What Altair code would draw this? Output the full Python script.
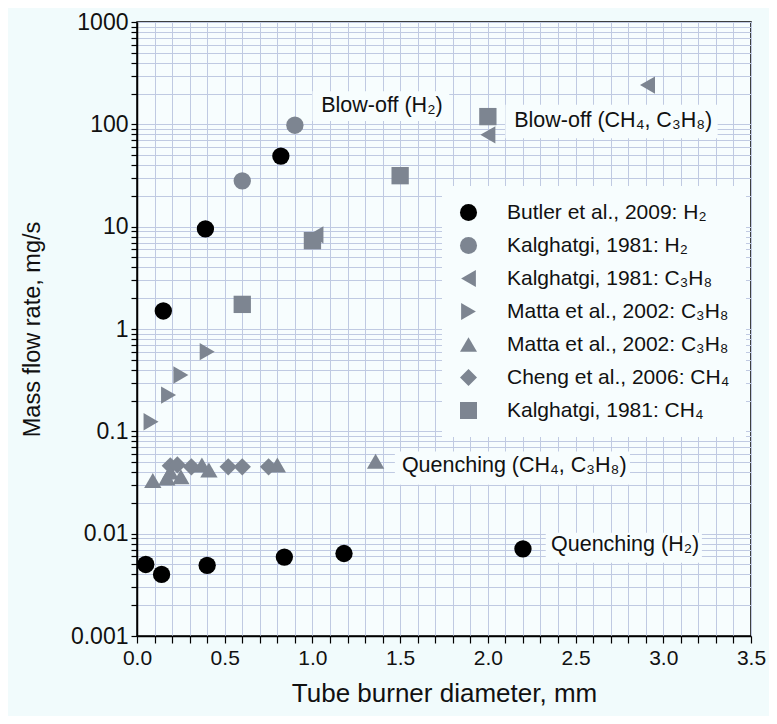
import altair as alt
import pandas as pd

# ---- data ----
series_names = [
    "Butler et al., 2009: H₂",
    "Kalghatgi, 1981: H₂",
    "Kalghatgi, 1981: C₃H₈",
    "Matta et al., 2002: C₃H₈ ",
    "Matta et al., 2002: C₃H₈",
    "Cheng et al., 2006: CH₄",
    "Kalghatgi, 1981: CH₄",
]
series_shapes = ["circle", "circle", "triangle-left", "triangle-right",
                 "triangle-up", "diamond", "square"]
series_colors = ["#000000", "#7d8591", "#7d8591", "#7d8591",
                 "#7d8591", "#7d8591", "#7d8591"]

butler_x = [0.05, 0.14, 0.40, 0.84, 1.18, 2.20, 0.15, 0.39, 0.82]
butler_y = [0.0050, 0.0040, 0.0049, 0.0059, 0.0064, 0.0071, 1.5, 9.5, 49]

kal_h2_x = [0.60, 0.90]
kal_h2_y = [28, 98]

kal_c3_x = [1.02, 2.00, 2.91]
kal_c3_y = [8.3, 79, 242]

matta_blow_x = [0.08, 0.18, 0.25, 0.40]
matta_blow_y = [0.124, 0.226, 0.355, 0.60]

matta_q_x = [0.09, 0.17, 0.19, 0.25, 0.37, 0.41, 0.80, 1.36]
matta_q_y = [0.033, 0.035, 0.040, 0.036, 0.047, 0.042, 0.047, 0.051]

cheng_x = [0.19, 0.23, 0.31, 0.52, 0.60, 0.75]
cheng_y = [0.046, 0.047, 0.045, 0.045, 0.045, 0.045]

kal_ch4_x = [0.60, 1.00, 1.50, 2.00]
kal_ch4_y = [1.74, 7.3, 31.5, 119]

# annotations: text, x, y, box x0, x1, y0, y1 (data units)
ann_text = ["Blow-off (H₂)", "Blow-off (CH₄, C₃H₈)",
            "Quenching (CH₄, C₃H₈)", "Quenching (H₂)"]
ann_x = [1.05, 2.15, 1.51, 2.36]
ann_y = [150, 108, 0.0455, 0.0077]
box_x0 = [1.00, 2.10, 1.47, 2.33]
box_x1 = [1.78, 3.31, 2.81, 3.22]
box_y0 = [108, 73, 0.030, 0.0052]
box_y1 = [210, 155, 0.0635, 0.0102]

xs_all = [butler_x, kal_h2_x, kal_c3_x, matta_blow_x, matta_q_x, cheng_x, kal_ch4_x]
ys_all = [butler_y, kal_h2_y, kal_c3_y, matta_blow_y, matta_q_y, cheng_y, kal_ch4_y]

rows = []
for name, xs, ys in zip(series_names, xs_all, ys_all):
    for xv, yv in zip(xs, ys):
        rows.append({"series": name, "d": xv, "m": yv})
df = pd.DataFrame(rows)

ann_df = pd.DataFrame({"t": ann_text, "x": ann_x, "y": ann_y,
                       "x0": box_x0, "x1": box_x1, "y0": box_y0, "y1": box_y1})

x_ticks = [round(i * 0.1, 1) for i in range(0, 36)]
y_ticks = []
for e in range(-3, 3):
    for k in range(1, 10):
        y_ticks.append(round(k * 10 ** e, 6))
y_ticks.append(1000)

FONT = "Liberation Sans"

x_scale = alt.Scale(domain=[0, 3.5], nice=False, zero=False)
y_scale = alt.Scale(type="log", domain=[0.001, 1000], nice=False)

x_axis = alt.Axis(values=x_ticks, title="Tube burner diameter, mm",
                  labelExpr="abs(datum.value*2 - round(datum.value*2)) < 0.001 ? format(datum.value, '.1f') : ''",
                  grid=True, tickSize=7, labelPadding=4, titlePadding=12,
                  labelFontSize=21, titleFontSize=26,
                  labelFlush=False, labelOverlap=False, labelBound=False)
y_axis = alt.Axis(values=y_ticks, title="Mass flow rate, mg/s",
                  labelExpr="abs(log(datum.value)/log(10) - round(log(datum.value)/log(10))) < 0.001 ? format(datum.value, '~g') : ''",
                  grid=True, tickSize=6, labelPadding=3, titlePadding=26,
                  labelFontSize=23, titleFontSize=23.5,
                  labelFlush=False, labelOverlap=False, labelBound=False)

boxes = alt.Chart(ann_df).mark_rect(color="#f7fdfe", opacity=1).encode(
    x=alt.X("x0:Q", scale=x_scale, axis=x_axis),
    x2="x1:Q",
    y=alt.Y("y0:Q", scale=y_scale, axis=y_axis),
    y2="y1:Q",
)

points = alt.Chart(df).mark_point(filled=True, opacity=1, size=300, strokeWidth=0).encode(
    x=alt.X("d:Q", scale=x_scale, axis=x_axis),
    y=alt.Y("m:Q", scale=y_scale, axis=y_axis),
    color=alt.Color("series:N", scale=alt.Scale(domain=series_names, range=series_colors),
                    legend=alt.Legend(title=None, orient="none", legendX=305, legendY=164,
                                      fillColor="#f7fdfe", padding=16,
                                      labelFontSize=21, labelFont=FONT, labelColor="#111111",
                                      symbolSize=290, symbolStrokeWidth=0,
                                      rowPadding=11, labelOffset=28, labelLimit=400)),
    shape=alt.Shape("series:N", scale=alt.Scale(domain=series_names, range=series_shapes)),
)

labels = alt.Chart(ann_df).mark_text(align="left", baseline="middle", fontSize=21.5,
                                     font=FONT, color="#111111").encode(
    x=alt.X("x:Q", scale=x_scale, axis=x_axis),
    y=alt.Y("y:Q", scale=y_scale, axis=y_axis),
    text="t:N",
)

chart = alt.layer(boxes, points, labels).properties(
    width=614, height=614,
    autosize=alt.AutoSizeParams(type="none"),
    padding={"left": 129, "top": 14, "right": 18, "bottom": 80},
    background="#f1fbfc",
).configure_view(
    stroke="#000000", strokeWidth=1.5, fill="#f7fdfe"
).configure_axis(
    labelFont=FONT, titleFont=FONT,
    titleFontWeight="normal", labelColor="#111111", titleColor="#111111",
    domainColor="#000000", domainWidth=1.5, tickColor="#000000", tickWidth=1.2,
    gridColor="#c0cae2", gridWidth=1, gridOpacity=1,
)

chart.save("out.html", embed_options={"renderer": "svg", "actions": False})
